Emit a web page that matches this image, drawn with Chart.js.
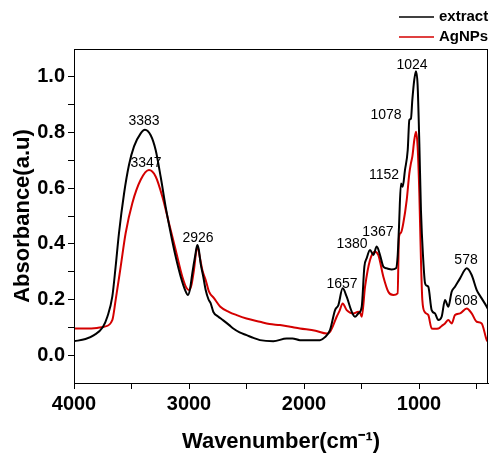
<!DOCTYPE html>
<html>
<head>
<meta charset="utf-8">
<script src="https://cdn.jsdelivr.net/npm/chart.js@4/dist/chart.umd.min.js"></script>
<style>
  html, body { margin: 0; padding: 0; background: #fff; }
</style>
</head>
<body>
<canvas id="ftirChart" width="491" height="454"></canvas>
<script>
// ===== FTIR spectra: extract vs AgNPs =====

const extractWn = [4000, 3900, 3826, 3750, 3710, 3667, 3638, 3609, 3565, 3522, 3478, 3420, 3383, 3333, 3290, 3246, 3203, 3159, 3116, 3072,
  3030, 3009, 2990, 2971, 2945, 2928, 2915, 2899, 2875, 2855, 2830, 2812, 2788, 2750, 2702, 2650, 2615, 2560, 2499, 2440,
  2383, 2267, 2151, 2100, 2035, 1940, 1861, 1820, 1774, 1730, 1701, 1664, 1629, 1585, 1557, 1528, 1498, 1475, 1455, 1426,
  1397, 1368, 1339, 1310, 1281, 1237, 1200, 1185, 1174, 1157, 1142, 1122, 1098, 1084, 1070, 1058, 1041, 1026, 1012, 997,
  983, 963, 948, 935, 919, 890, 861, 832, 803, 774, 745, 716, 687, 643, 585, 542, 498, 455, 411, 400];
const extractAbs = [0.05, 0.058, 0.072, 0.10, 0.138, 0.21, 0.318, 0.438, 0.58, 0.683, 0.75, 0.797, 0.81, 0.79, 0.737, 0.64, 0.533, 0.438, 0.354, 0.282,
  0.23, 0.216, 0.24, 0.295, 0.36, 0.396, 0.38, 0.33, 0.28, 0.234, 0.2, 0.187, 0.155, 0.14, 0.125, 0.108, 0.096, 0.082, 0.072, 0.062,
  0.054, 0.05, 0.06, 0.06, 0.054, 0.054, 0.054, 0.064, 0.09, 0.162, 0.18, 0.24, 0.21, 0.156, 0.138, 0.15, 0.174, 0.318, 0.348, 0.378,
  0.36, 0.39, 0.36, 0.318, 0.312, 0.308, 0.312, 0.36, 0.46, 0.617, 0.605, 0.665, 0.737, 0.845, 0.85, 0.917, 0.99, 1.02, 0.97, 0.76,
  0.52, 0.342, 0.26, 0.25, 0.246, 0.162, 0.15, 0.126, 0.138, 0.198, 0.174, 0.228, 0.246, 0.276, 0.312, 0.288, 0.234, 0.204, 0.174, 0.165];

const agnpWn = [4000, 3900, 3800, 3739, 3667, 3638, 3594, 3551, 3493, 3420, 3348, 3290, 3232, 3174, 3116, 3058, 3020, 3000, 2980, 2957,
  2928, 2905, 2884, 2855, 2826, 2783, 2730, 2650, 2585, 2500, 2383, 2300, 2209, 2120, 2035, 1900, 1803, 1774, 1748, 1716,
  1690, 1664, 1629, 1571, 1528, 1510, 1498, 1469, 1426, 1383, 1354, 1310, 1267, 1223, 1186, 1174, 1157, 1137, 1107, 1084,
  1070, 1058, 1041, 1026, 1012, 997, 983, 971, 950, 919, 890, 861, 832, 803, 774, 745, 716, 687, 643, 585,
  542, 498, 455, 411, 400];
const agnpAbs = [0.096, 0.096, 0.098, 0.102, 0.126, 0.198, 0.318, 0.438, 0.546, 0.63, 0.665, 0.642, 0.57, 0.474, 0.378, 0.282, 0.24, 0.234, 0.25, 0.306,
  0.39, 0.35, 0.306, 0.27, 0.228, 0.205, 0.175, 0.155, 0.144, 0.132, 0.12, 0.112, 0.108, 0.102, 0.096, 0.088, 0.078, 0.084, 0.105, 0.138,
  0.16, 0.186, 0.162, 0.15, 0.156, 0.15, 0.138, 0.246, 0.342, 0.372, 0.36, 0.282, 0.228, 0.216, 0.222, 0.425, 0.44, 0.473, 0.557, 0.653,
  0.69, 0.713, 0.773, 0.803, 0.75, 0.58, 0.342, 0.198, 0.155, 0.144, 0.096, 0.095, 0.096, 0.105, 0.114, 0.126, 0.114, 0.144, 0.15, 0.168,
  0.15, 0.12, 0.114, 0.054, 0.048];

// peak annotations (text, wavenumber, absorbance position of the label)
const peakLabels = ['3383', '3347', '2926', '1657', '1380', '1367', '1152', '1078', '1024', '578', '608'];
const peakX = [3391, 3374, 2922, 1670, 1583, 1357, 1304, 1287, 1061, 591, 591];
const peakY = [0.842, 0.69, 0.42, 0.255, 0.40, 0.442, 0.647, 0.863, 1.043, 0.342, 0.194];

const xTicks = [500, 1000, 1500, 2000, 2500, 3000, 3500, 4000];
const yTicks = [0, 0.1, 0.2, 0.3, 0.4, 0.5, 0.6, 0.7, 0.8, 0.9, 1.0];

const SERIES_COLORS = {
  extract: '#000000',
  agnps: '#d40000',
};

const FONT = '"Liberation Sans", Arial, sans-serif';

function toPoints(xs, ys) {
  return xs.map((x, i) => ({ x: x, y: ys[i] }));
}

// peak labels, legend and the closed frame
const decorPlugin = {
  id: 'decor',
  afterDatasetsDraw(chart) {
    const { ctx, chartArea, scales: { x, y } } = chart;
    ctx.save();

    // frame
    ctx.strokeStyle = '#000';
    ctx.lineWidth = 1;
    ctx.strokeRect(chartArea.left + 0.5, chartArea.top + 0.5,
      chartArea.right - chartArea.left - 1, chartArea.bottom - chartArea.top);

    // peak labels
    ctx.font = '14px ' + FONT;
    ctx.fillStyle = '#000';
    ctx.textAlign = 'center';
    ctx.textBaseline = 'middle';
    peakLabels.forEach((t, i) => {
      ctx.fillText(t, x.getPixelForValue(peakX[i]), y.getPixelForValue(peakY[i]));
    });

    // legend (stacked, above the plot)
    const items = [
      { label: 'extract', color: SERIES_COLORS.extract, y: 17 },
      { label: 'AgNPs', color: SERIES_COLORS.agnps, y: 37 },
    ];
    ctx.font = 'bold 15px ' + FONT;
    ctx.textAlign = 'left';
    items.forEach((it) => {
      ctx.strokeStyle = it.color;
      ctx.lineWidth = 1.5;
      ctx.beginPath();
      ctx.moveTo(399, it.y);
      ctx.lineTo(434, it.y);
      ctx.stroke();
      ctx.fillStyle = '#000';
      ctx.fillText(it.label, 439, it.y);
    });

    ctx.restore();
  },
};

const ctx = document.getElementById('ftirChart').getContext('2d');
const ftirChart = new Chart(ctx, {
  type: 'line',
  data: {
    datasets: [
      {
        label: 'extract',
        data: toPoints(extractWn, extractAbs),
        borderColor: SERIES_COLORS.extract,
        borderWidth: 2,
        pointRadius: 0,
        cubicInterpolationMode: 'monotone',
        fill: false,
      },
      {
        label: 'AgNPs',
        data: toPoints(agnpWn, agnpAbs),
        borderColor: SERIES_COLORS.agnps,
        borderWidth: 2,
        pointRadius: 0,
        cubicInterpolationMode: 'monotone',
        fill: false,
      },
    ],
  },
  options: {
    responsive: false,
    animation: false,
    layout: { padding: { top: 49, right: 3, left: 0, bottom: 0 } },
    scales: {
      x: {
        type: 'linear',
        reverse: true,
        min: 400,
        max: 4000,
        afterBuildTicks: (scale) => { scale.ticks = xTicks.map((v) => ({ value: v })); },
        afterFit: (scale) => { scale.height = 71; },
        grid: { drawOnChartArea: false, color: '#000', tickLength: 6 },
        border: { color: '#000', width: 1 },
        ticks: {
          color: '#000',
          padding: 3,
          maxRotation: 0,
          font: { family: FONT, size: 20, weight: 'bold' },
          callback: (v) => (v % 1000 === 0 ? String(v) : ''),
        },
        title: {
          display: true,
          text: 'Wavenumber(cm⁻¹)',
          color: '#000',
          padding: { top: 0, bottom: 1 },
          font: { family: FONT, size: 22, weight: 'bold', lineHeight: 1 },
        },
      },
      y: {
        min: -0.1,
        max: 1.1,
        afterBuildTicks: (scale) => { scale.ticks = yTicks.map((v) => ({ value: v })); },
        afterFit: (scale) => { scale.width = 74; },
        grid: { drawOnChartArea: false, color: '#000', tickLength: 6 },
        border: { color: '#000', width: 1 },
        ticks: {
          color: '#000',
          padding: 3,
          font: { family: FONT, size: 20, weight: 'bold' },
          callback: (v) => (Math.round(v * 10) % 2 === 0 ? v.toFixed(1) : ''),
        },
        title: {
          display: true,
          text: 'Absorbance(a.u)',
          color: '#000',
          padding: { top: 12, bottom: 0 },
          font: { family: FONT, size: 22, weight: 'bold', lineHeight: 1 },
        },
      },
    },
    plugins: {
      legend: { display: false },
      tooltip: { enabled: false },
    },
  },
  plugins: [decorPlugin],
});
</script>
</body>
</html>
